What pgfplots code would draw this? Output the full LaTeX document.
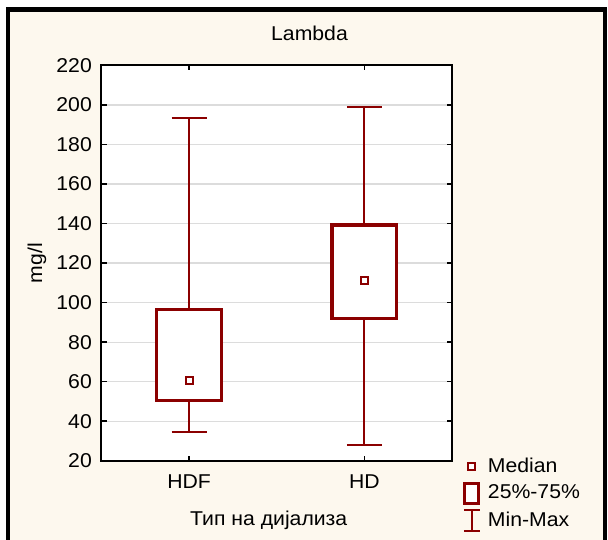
\documentclass[border=0pt]{standalone}
\usepackage{pgfplots}
\pgfplotsset{compat=1.18}
\usepackage{fontspec}
\setmainfont{Liberation Sans}[FakeStretch=1.06]
\definecolor{dred}{HTML}{8B0000}
\definecolor{cream}{HTML}{FDF8EE}
\definecolor{gridc}{HTML}{DCDCDC}
\begin{document}
\fontsize{20}{24}\selectfont
\begin{tikzpicture}
\useasboundingbox (0pt,0pt) rectangle (608pt,540pt);
\fill[white] (0pt,0pt) rectangle (608pt,540pt);
\fill[cream] (8pt,0pt) rectangle (605pt,530.5pt);
\draw[line width=4.3pt] (8pt,0pt) -- (8pt,530.5pt) -- (605pt,530.5pt) -- (605pt,0pt);
\begin{axis}[
  at={(101.5pt,79.3pt)}, anchor=south west,
  scale only axis, width=350.5pt, height=395.2pt,
  xmin=-0.5, xmax=1.5, ymin=20, ymax=220,
  xtick={0,1}, xticklabels={HDF,HD},
  ytick={20,40,...,220},
  minor tick num=0,
  tick pos=both,
  ymajorgrids, grid style={gridc, line width=1.2pt},
  axis line style={line width=2pt},
  tick style={black, line width=1.5pt},
  major tick length=5pt,
  tick align=inside,
  axis background/.style={fill=white},
  /pgf/number format/assume math mode=true,
  font=\fontsize{20}{24}\selectfont,
  ticklabel style={font=\fontsize{20}{24}\selectfont},
  yticklabel style={inner sep=0pt, xshift=-9.5pt},
  xticklabel style={inner sep=0pt, yshift=-14.3pt},
  title={Lambda},
  title style={at={(axis description cs:0.4836,1.0476)}, anchor=base west, inner sep=0pt},
  xlabel={Тип на дијализа},
  xlabel style={at={(axis description cs:0.2525,-0.1652)}, anchor=base west, inner sep=0pt},
  ylabel={mg/l},
  ylabel style={at={(axis description cs:-0.184,0.5)}, anchor=center, inner sep=0pt},
  legend cell align=left,
  legend style={at={(axis description cs:1.0285,0.0195)}, anchor=north west,
    draw=none, fill=none, inner sep=0pt, outer sep=0pt, row sep=0pt,
    nodes={inner sep=0pt}, font=\fontsize{20}{24}\selectfont},
]
% HDF
\addplot[dred, line width=2pt, forget plot] coordinates {(0,96.6) (0,193.3)};
\addplot[dred, line width=2pt, forget plot] coordinates {(-0.1,193.3) (0.1,193.3)};
\addplot[dred, line width=2pt, forget plot] coordinates {(0,34.4) (0,50.6)};
\addplot[dred, line width=2pt, forget plot] coordinates {(-0.1,34.4) (0.1,34.4)};
\addplot[dred, line width=3.3pt, fill=white, forget plot] coordinates {(-0.185,50.6) (0.185,50.6) (0.185,96.6) (-0.185,96.6)} -- cycle;
% HD
\addplot[dred, line width=2pt, forget plot] coordinates {(1,139.3) (1,198.8)};
\addplot[dred, line width=2pt, forget plot] coordinates {(0.9,198.8) (1.1,198.8)};
\addplot[dred, line width=2pt, forget plot] coordinates {(1,27.8) (1,92.1)};
\addplot[dred, line width=2pt, forget plot] coordinates {(0.9,27.8) (1.1,27.8)};
\addplot[dred, line width=3.3pt, fill=white, forget plot] coordinates {(0.815,92.1) (1.185,92.1) (1.185,139.3) (0.815,139.3)} -- cycle;
% medians
\addplot[only marks, mark=square*, mark size=3.6pt,
  mark options={draw=dred, fill=white, line width=2pt}, forget plot]
  coordinates {(0,60.7) (1,111.1)};
\addlegendimage{legend image code/.code={
  \path[draw=none, fill=none] (0pt,-13.5pt) rectangle (26pt,13.5pt);
  \draw[dred, line width=1.8pt, fill=white] (6.4pt,-3.4pt) rectangle (13.2pt,3.4pt);
}}
\addlegendentry{Median}
\addlegendimage{legend image code/.code={
  \path[draw=none, fill=none] (0pt,-13.5pt) rectangle (26pt,13.5pt);
  \draw[dred, line width=3.3pt, fill=white] (2.65pt,-9.85pt) rectangle (16.35pt,9.85pt);
}}
\addlegendentry{25\%-75\%}
\addlegendimage{legend image code/.code={
  \path[draw=none, fill=none] (0pt,-13.5pt) rectangle (26pt,13.5pt);
  \draw[dred, line width=2pt] (2pt,10.85pt) -- (18pt,10.85pt)
    (10pt,10.85pt) -- (10pt,-10.85pt) (2pt,-10.85pt) -- (18pt,-10.85pt);
}}
\addlegendentry{Min-Max}
\end{axis}
\end{tikzpicture}
\end{document}
